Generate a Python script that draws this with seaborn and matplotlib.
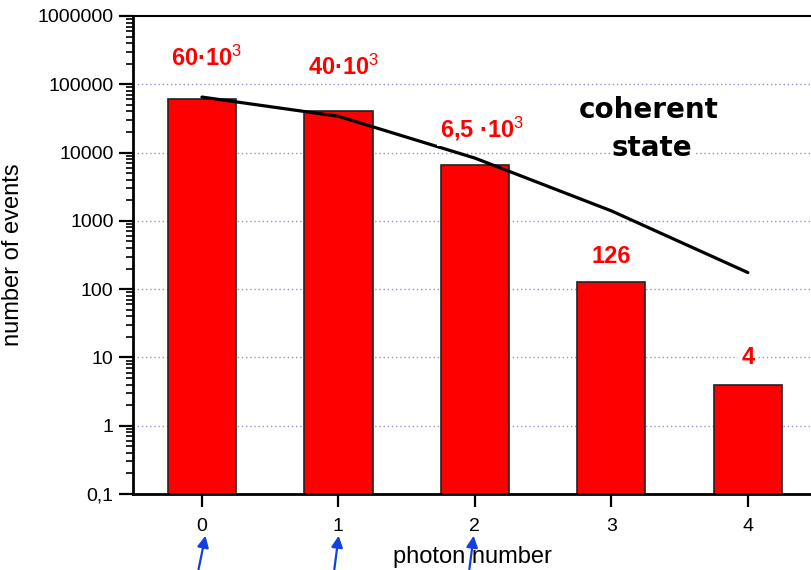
import numpy as np
import pandas as pd
import matplotlib
matplotlib.use("Agg")
import matplotlib.pyplot as plt
from matplotlib.ticker import FixedLocator, FixedFormatter, LogLocator, NullFormatter
import seaborn as sns

# Measured photon-number distribution and the Poisson expectation
photon_number = [0, 1, 2, 3, 4]
events = [60000, 40000, 6500, 126, 4]
poisson_fit = [65000, 34000, 8300, 1400, 175]
bar_labels = [r"60·10$^{\mathrm{3}}$", r"40·10$^{\mathrm{3}}$",
              r"6,5 ·10$^{\mathrm{3}}$", "126", "4"]
ytick_values = [0.1, 1, 10, 100, 1000, 10000, 100000, 1000000]
ytick_labels = ["0,1", "1", "10", "100", "1000", "10000", "100000", "1000000"]

sns.set_theme(style="white")
plt.rcParams["font.family"] = ["Liberation Sans", "DejaVu Sans"]
plt.rcParams["mathtext.fontset"] = "custom"
plt.rcParams["mathtext.rm"] = "Liberation Sans"
plt.rcParams["mathtext.bf"] = "Liberation Sans:bold"
plt.rcParams["mathtext.default"] = "regular"

W, H = 812, 570
fig = plt.figure(figsize=(W / 100, H / 100), dpi=100)
ax = fig.add_axes([133 / W, 1 - 494 / H, 1 - 133 / W, (494 - 16) / H])
ax.set_yscale("log")

df = pd.DataFrame({"n": photon_number, "events": events})
sns.barplot(data=df, x="n", y="events", color="#ff0000", saturation=1,
            width=0.5, edgecolor="#222222", linewidth=1.2, ax=ax, zorder=2)

fit = pd.DataFrame({"n": photon_number, "fit": poisson_fit})
sns.lineplot(data=fit, x="n", y="fit", color="black", linewidth=2.3, ax=ax, zorder=4)

ax.set_ylim(0.1, 1e6)
ax.set_xlim(-0.505, 4.47)

# decade grid, dotted
for v in ytick_values[1:-1]:
    ax.axhline(v, color="#8f8fcc", linestyle=(0, (1, 2)), linewidth=1.0, zorder=1)

ax.yaxis.set_major_locator(FixedLocator(ytick_values))
ax.yaxis.set_major_formatter(FixedFormatter(ytick_labels))
ax.yaxis.set_minor_locator(LogLocator(base=10, subs=np.arange(2, 10), numticks=20))
ax.yaxis.set_minor_formatter(NullFormatter())
ax.set_xticks(range(len(photon_number)))
ax.set_xticklabels([str(n) for n in photon_number])

ax.tick_params(axis="y", which="major", direction="out", length=10, width=1.6,
               labelsize=14, left=True, color="black", pad=4)
ax.tick_params(axis="y", which="minor", direction="out", length=5, width=1.2,
               left=True, color="black")
ax.tick_params(axis="x", which="major", direction="out", length=9, width=1.6,
               labelsize=14, bottom=True, color="black", pad=8)
for lab in ax.get_xticklabels() + ax.get_yticklabels():
    lab.set_color("black")

for side in ["left", "bottom"]:
    ax.spines[side].set_linewidth(2)
    ax.spines[side].set_color("black")
ax.spines["top"].set_linewidth(1.5)
ax.spines["top"].set_color("black")
ax.spines["right"].set_visible(False)

ax.set_xlabel("photon number", fontsize=17, color="black", labelpad=8)
ax.set_ylabel("number of events", fontsize=17, color="black", labelpad=10)

# value labels above the bars
offsets = [(5, 41), (5, 44), (7, 36), (0, 26), (0, 27)]
for n, v, txt, off in zip(photon_number, events, bar_labels, offsets):
    ax.annotate(txt, xy=(n, v), xytext=off, textcoords="offset pixels",
                ha="center", va="center", color="#ff0000", fontsize=17,
                fontweight="bold", zorder=5,
                bbox=dict(facecolor="white", edgecolor="none", pad=2))

for word, ypix, xshift in [("coherent", 110, 0.0), ("state", 148, 0.03)]:
    ax.text(3.27 + xshift, 10 ** (6 - (ypix - 16) / 68.3), word, ha="center",
            va="center", fontsize=20, fontweight="bold", color="black",
            family="DejaVu Sans", zorder=5,
            bbox=dict(facecolor="white", edgecolor="none", pad=1))

# blue arrows below the axis
for x0, x1 in [(198, 206), (334, 339), (469, 474)]:
    fig.add_artist(matplotlib.patches.FancyArrowPatch(
        (x0, -2), (x1, 570 - 533), transform=None, arrowstyle="-|>",
        mutation_scale=17, color="#1040e0", linewidth=1.6))

fig.savefig("out.png", dpi=100)
